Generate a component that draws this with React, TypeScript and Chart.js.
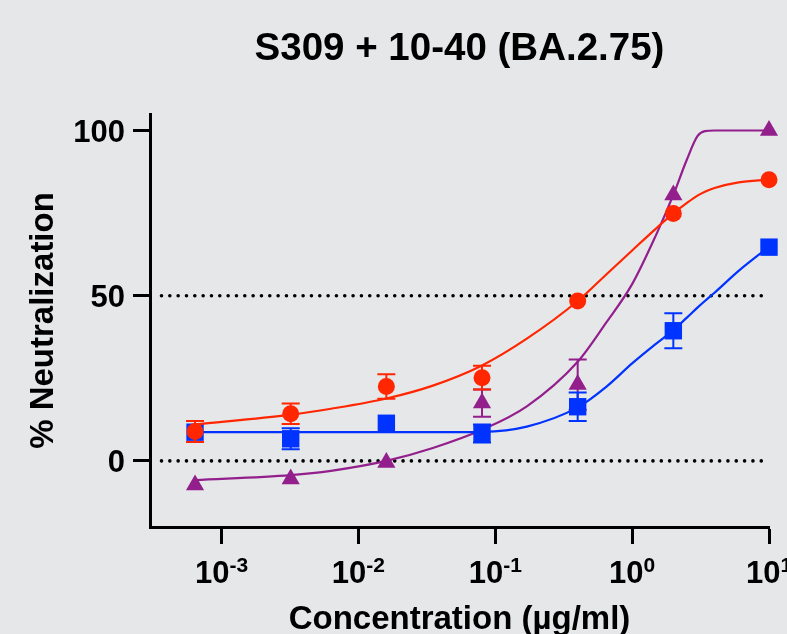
import React, { useEffect, useRef } from "react";
import { Chart, registerables } from "chart.js";

Chart.register(...registerables);

// ---------- data ----------
const titleText = "S309 + 10-40 (BA.2.75)";
const xAxisTitle = "Concentration (µg/ml)";
const yAxisTitle = "% Neutralization";

const concentrations = [0.00064, 0.0032, 0.016, 0.08, 0.4, 2, 10];

const redMean = [8.9, 14.3, 22.5, 25.2, 48.4, 74.9, 85.1];
const redSem = [3.2, 3.1, 3.7, 3.6, 0, 0, 0];
const blueMean = [8.7, 6.7, 11.4, 8.3, 16.4, 39.4, 64.7];
const blueSem = [0, 3.2, 0, 2.7, 4.3, 5.3, 0];
const purpleMean = [-7.3, -5.5, -0.5, 17.5, 23.1, 80.5, 100];
const purpleSem = [0, 0, 0, 4.1, 7.6, 0, 0];

// fitted curves
const curveX = [0.00064, 0.0032, 0.0063, 0.016, 0.035, 0.08, 0.17, 0.4, 0.65, 1.0, 1.5, 2.0, 2.5, 3.0, 3.4, 4.0, 6.0, 10];
const redCurve = [11.0, 14.0, 15.8, 18.9, 22.8, 28.9, 37.0, 48.4, 56.5, 63.7, 70.4, 74.9, 78.0, 80.3, 81.5, 82.6, 84.3, 85.1];
const blueCurve = [8.7, 8.7, 8.7, 8.7, 8.7, 8.8, 10.4, 16.2, 22.5, 29.5, 35.5, 39.6, 43.3, 46.4, 48.4, 50.9, 57.5, 64.8];
const purpleCurve = [-5.8, -4.3, -3.0, 0.0, 3.9, 9.4, 16.5, 30.0, 42.0, 53.5, 68.5, 80.5, 91.0, 98.3, 99.8, 100, 100, 100];

// reference dotted lines
const refLineX = [0.000364, 9.1];
const refLevels = [0, 50];

// axes
const xMin = 0.00032;
const xMax = 10;
const yMin = -20;
const yMax = 105;
const xTickValues = [0.001, 0.01, 0.1, 1, 10];
const xTickExponents = ["-3", "-2", "-1", "0", "1"];
const yTickValues = [0, 50, 100];

// ---------- styles ----------
const BG = "#e6e7e9";
const RED = "#ff2600";
const BLUE = "#0033ff";
const PURPLE = "#921f8c";
const FONT = "'Liberation Sans', Arial, Helvetica, sans-serif";

const errorBarPlugin = {
  id: "errorBars",
  beforeDatasetDraw(chart: any, args: any) {
    const ds = chart.data.datasets[args.index];
    if (!ds.errors) return;
    const xs = chart.scales.x;
    const ys = chart.scales.y;
    const ctx = chart.ctx;
    ctx.save();
    ctx.strokeStyle = ds.backgroundColor;
    ctx.lineWidth = 2;
    ds.data.forEach((p: any, i: number) => {
      const e = ds.errors[i];
      if (!e) return;
      const px = xs.getPixelForValue(p.x);
      const top = ys.getPixelForValue(p.y + e);
      const bot = ys.getPixelForValue(p.y - e);
      ctx.beginPath();
      ctx.moveTo(px, top);
      ctx.lineTo(px, bot);
      ctx.moveTo(px - 9, top);
      ctx.lineTo(px + 9, top);
      ctx.moveTo(px - 9, bot);
      ctx.lineTo(px + 9, bot);
      ctx.stroke();
    });
    ctx.restore();
  },
};

const textPlugin = {
  id: "customText",
  afterDraw(chart: any) {
    const ctx = chart.ctx;
    const xs = chart.scales.x;
    const ys = chart.scales.y;
    const area = chart.chartArea;
    const cx = (area.left + area.right) / 2;
    ctx.save();
    ctx.fillStyle = "#000";
    ctx.textBaseline = "alphabetic";

    // title
    ctx.font = `bold 38.5px ${FONT}`;
    ctx.textAlign = "center";
    ctx.fillText(titleText, cx, 59.5);

    // y tick labels
    ctx.font = `bold 31px ${FONT}`;
    ctx.textAlign = "right";
    yTickValues.forEach((v) => {
      ctx.fillText(String(v), 125, ys.getPixelForValue(v) + 11);
    });

    // x tick labels 10^n
    ctx.textAlign = "left";
    xTickValues.forEach((v, i) => {
      const px = xs.getPixelForValue(v);
      ctx.font = `bold 31px ${FONT}`;
      const w1 = ctx.measureText("10").width;
      ctx.font = `bold 21px ${FONT}`;
      const w2 = ctx.measureText(xTickExponents[i]).width;
      const start = px - (w1 + w2) / 2;
      ctx.font = `bold 31px ${FONT}`;
      ctx.fillText("10", start, 582.7);
      ctx.font = `bold 21px ${FONT}`;
      ctx.fillText(xTickExponents[i], start + w1, 571.7);
    });

    // x axis title
    ctx.font = `bold 33px ${FONT}`;
    ctx.textAlign = "center";
    ctx.fillText(xAxisTitle, cx, 628.5);

    // y axis title
    ctx.save();
    ctx.translate(53, (area.top + area.bottom) / 2);
    ctx.rotate(-Math.PI / 2);
    ctx.textAlign = "center";
    ctx.fillText(yAxisTitle, 0, 0);
    ctx.restore();

    ctx.restore();
  },
};

function pts(xs: number[], ys: number[]) {
  return xs.map((x, i) => ({ x, y: ys[i] }));
}

function curveDataset(ys: number[], color: string, order: number) {
  return {
    data: pts(curveX, ys),
    showLine: true,
    borderColor: color,
    backgroundColor: color,
    borderWidth: 2.2,
    pointRadius: 0,
    cubicInterpolationMode: "monotone",
    order,
    clip: false,
  };
}

function markerDataset(ys: number[], errs: number[], color: string, style: string, radius: number, order: number) {
  return {
    data: pts(concentrations, ys),
    errors: errs,
    showLine: false,
    pointStyle: style,
    pointRadius: radius,
    pointHoverRadius: radius,
    backgroundColor: color,
    borderColor: color,
    pointBorderWidth: 0,
    borderWidth: 0,
    order,
    clip: false,
  };
}

function refDataset(level: number, order: number) {
  return {
    data: refLineX.map((x) => ({ x, y: level })),
    showLine: true,
    borderColor: "#000",
    borderWidth: 3.6,
    borderDash: [0, 8.33],
    borderCapStyle: "round",
    pointRadius: 0,
    order,
  };
}

export default function App() {
  const ref = useRef<HTMLCanvasElement>(null);

  useEffect(() => {
    const axisCommon = {
      ticks: { display: false },
      grid: {
        display: true,
        drawOnChartArea: false,
        drawTicks: true,
        tickLength: 17,
        tickWidth: 3,
        tickColor: "#000",
        color: "#000",
      },
      border: { display: true, color: "#000", width: 3 },
    };
    const chart = new Chart(ref.current as HTMLCanvasElement, {
      type: "scatter",
      data: {
        datasets: [
          markerDataset(redMean, redSem, RED, "circle", 8.5, 0),
          curveDataset(redCurve, RED, 1),
          markerDataset(blueMean, blueSem, BLUE, "rect", 12.3, 2),
          curveDataset(blueCurve, BLUE, 3),
          markerDataset(purpleMean, purpleSem, PURPLE, "triangle", 10.5, 4),
          curveDataset(purpleCurve, PURPLE, 5),
          refDataset(refLevels[0], 6),
          refDataset(refLevels[1], 7),
        ] as any,
      },
      options: {
        responsive: false,
        animation: false,
        events: [],
        layout: { padding: { top: 114, right: 18, left: 0, bottom: 0 } },
        plugins: {
          legend: { display: false },
          tooltip: { enabled: false },
          title: { display: false },
        },
        scales: {
          x: {
            type: "logarithmic",
            min: xMin,
            max: xMax,
            position: "bottom",
            afterBuildTicks: (s: any) => {
              s.ticks = xTickValues.map((v) => ({ value: v }));
            },
            afterFit: (s: any) => {
              s.height = 107;
            },
            ...axisCommon,
          },
          y: {
            type: "linear",
            min: yMin,
            max: yMax,
            position: "left",
            afterBuildTicks: (s: any) => {
              s.ticks = yTickValues.map((v) => ({ value: v }));
            },
            afterFit: (s: any) => {
              s.width = 150;
            },
            ...axisCommon,
          },
        } as any,
      },
      plugins: [errorBarPlugin, textPlugin],
    });
    return () => chart.destroy();
  }, []);

  return (
    <div style={{ position: "fixed", left: 0, top: 0, width: 787, height: 634, background: BG }}>
      <canvas ref={ref} width={787} height={634} style={{ display: "block" }} />
    </div>
  );
}
